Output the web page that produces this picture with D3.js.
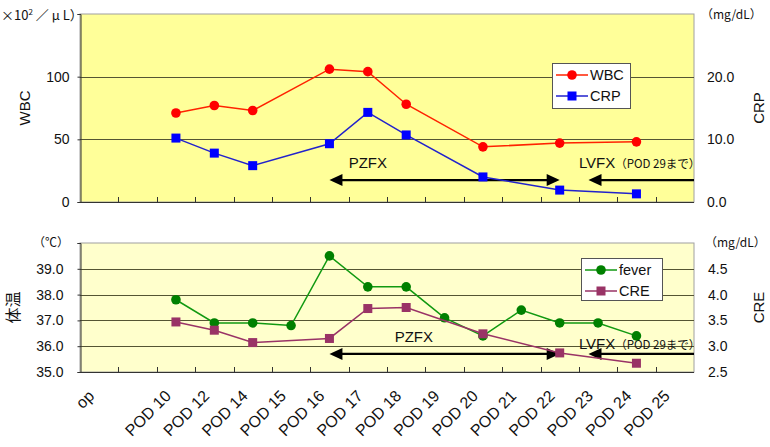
<!DOCTYPE html>
<meta charset="utf-8">
<script src="https://d3js.org/d3.v7.min.js"></script>
<style>
    body { margin: 0; background: #fff; }
    svg text { font-family: "Liberation Sans", Arial, sans-serif; }
    .jp { font-family: "Noto Sans CJK JP", sans-serif; }
</style>
<div id="vis"></div>
<script>
    // categories (x axis)
    var cats = ["op", "", "POD 10", "POD 12", "POD 14", "POD 15", "POD 16", "POD 17", "POD 18",
        "POD 19", "POD 20", "POD 21", "POD 22", "POD 23", "POD 24", "POD 25"];

    // series values, null = no measurement
    var wbc = [null, null, 71, 77, 73, null, 106, 104, 78, null, 44, null, 47, null, 48, null];
    var crp = [null, null, 10.2, 7.8, 5.8, null, 9.3, 14.3, 10.7, null, 4.0, null, 1.9, null, 1.3, null];
    var fever = [null, null, 37.8, 36.9, 36.9, 36.8, 39.5, 38.3, 38.3, 37.1, 36.4, 37.4, 36.9, 36.9, 36.4, null];
    var cre = [null, null, 3.47, 3.31, 3.07, null, 3.15, 3.73, 3.75, null, 3.24, null, 2.87, null, 2.67, null];

    // tick values
    var wbcTicks = [0, 50, 100];
    var crpTicks = [0, 10, 20];
    var tempTicks = [35, 36, 37, 38, 39];
    var creTicks = [2.5, 3.0, 3.5, 4.0, 4.5];

    var W = 770, H = 447;
    var svg = d3.select("#vis").append("svg")
        .attr("width", W).attr("height", H);

    var x = d3.scaleBand().domain(cats).range([80, 694]).padding(0);
    var bw = x.bandwidth();
    // fractional category index -> pixel (for the drug arrows)
    var xi = function (i) { return x.range()[0] + (i + 0.5) * bw; };

    function panel(o) {
        var g = svg.append("g");
        var yl = d3.scaleLinear().domain(o.lDom).range([o.bot, o.top]);
        var yr = d3.scaleLinear().domain(o.rDom).range([o.bot, o.top]);

        g.append("rect")
            .attr("x", 80).attr("y", o.top)
            .attr("width", 614).attr("height", o.bot - o.top)
            .attr("fill", o.bg).attr("stroke", "#a0a0a0").attr("stroke-width", 1);

        // gridlines
        g.selectAll(".grid").data(o.grid).enter().append("line")
            .attr("x1", 80).attr("x2", 694)
            .attr("y1", function (d) { return Math.round(yl(d)) + 0.5; })
            .attr("y2", function (d) { return Math.round(yl(d)) + 0.5; })
            .attr("stroke", "#555533").attr("stroke-width", 1);

        // left axis
        var la = g.append("g").attr("transform", "translate(80.5,0)")
            .call(d3.axisLeft(yl).tickValues(o.lTicks.concat([o.lDom[1]])).tickSize(3)
                .tickFormat(function (d) { return o.lTicks.indexOf(d) < 0 ? "" : o.lFmt(d); }));
        la.select(".domain").attr("stroke", "#333");
        la.selectAll("text").attr("x", o.lLabX - 80).style("font-size", "14px").attr("fill", "#111");
        la.selectAll("line").attr("stroke", "#333");

        // right axis
        var ra = g.append("g").attr("transform", "translate(694,0)")
            .call(d3.axisRight(yr).tickValues(o.rTicks).tickSize(0).tickFormat(d3.format(o.rFmt)));
        ra.select(".domain").remove();
        ra.selectAll("text").attr("x", o.rLabX - 694).style("font-size", "14px").attr("fill", "#111");

        // bottom axis with ticks at category borders pointing inside
        g.append("line").attr("x1", 80).attr("x2", 694)
            .attr("y1", o.bot + 0.5).attr("y2", o.bot + 0.5)
            .attr("stroke", "#333").attr("stroke-width", 1.2);
        g.selectAll(".xt").data(cats.slice(1)).enter().append("line")
            .attr("x1", function (d) { return Math.round(x(d)) + 0.5; })
            .attr("x2", function (d) { return Math.round(x(d)) + 0.5; })
            .attr("y1", o.bot).attr("y2", o.bot - 5)
            .attr("stroke", "#333");

        // arrows
        o.arrows.forEach(function (a) {
            var ay = yl(a.y);
            g.append("line")
                .attr("x1", xi(a.from) + (a.headL ? 10 : 0)).attr("x2", xi(a.to) - (a.headR ? 10 : 0))
                .attr("y1", ay).attr("y2", ay)
                .attr("stroke", "#000").attr("stroke-width", 2.2);
            if (a.headL) {
                g.append("path")
                    .attr("d", d3.line()([[xi(a.from), ay], [xi(a.from) + 13, ay - 6], [xi(a.from) + 13, ay + 6]]) + "Z")
                    .attr("fill", "#000");
            }
            if (a.headR) {
                g.append("path")
                    .attr("d", d3.line()([[xi(a.to), ay], [xi(a.to) - 13, ay - 6], [xi(a.to) - 13, ay + 6]]) + "Z")
                    .attr("fill", "#000");
            }
            var t = g.append("text")
                .attr("x", xi(a.tx)).attr("y", yl(a.ty))
                .attr("text-anchor", a.anchor).attr("dy", "0.35em")
                .style("font-size", "15px").attr("fill", "#111")
                .text(a.label);
            if (a.sub) {
                t.append("tspan").attr("class", "jp").style("font-size", "11.5px").text(a.sub);
            }
        });

        // series
        o.series.forEach(function (s) {
            var sc = s.axis === "l" ? yl : yr;
            var pts = s.values.map(function (v, i) { return { c: cats[i], v: v }; })
                .filter(function (d) { return d.v != null; });
            g.append("path").datum(pts)
                .attr("fill", "none").attr("stroke", s.line).attr("stroke-width", 1.5)
                .attr("d", d3.line()
                    .x(function (d) { return x(d.c) + bw / 2; })
                    .y(function (d) { return sc(d.v); }));
            drawMarks(g, pts, s, function (d) { return x(d.c) + bw / 2; }, function (d) { return sc(d.v); });
        });

        // legend
        var lg = g.append("g");
        lg.append("rect")
            .attr("x", o.leg.x + 0.5).attr("y", o.leg.y + 0.5)
            .attr("width", o.leg.w).attr("height", o.leg.h)
            .attr("fill", "#fff").attr("stroke", "#555").attr("stroke-width", 1);
        o.series.forEach(function (s, i) {
            var ly = o.leg.y + 12 + i * 21;
            lg.append("line")
                .attr("x1", o.leg.x + 4).attr("x2", o.leg.x + 36)
                .attr("y1", ly).attr("y2", ly)
                .attr("stroke", s.line).attr("stroke-width", 1.5);
            drawMarks(lg, [0], s, function () { return o.leg.x + 20; }, function () { return ly; });
            lg.append("text")
                .attr("x", o.leg.x + 38).attr("y", ly).attr("dy", "0.35em")
                .style("font-size", "14.5px").attr("fill", "#111")
                .text(s.name);
        });

        // axis titles
        svg.append("text")
            .attr("class", o.lTitleJp ? "jp" : null)
            .attr("transform", "translate(" + o.lTitleX + "," + ((o.top + o.bot) / 2) + ") rotate(-90)")
            .attr("text-anchor", "middle").attr("dy", "0.35em")
            .style("font-size", o.lTitleSize).attr("fill", "#111")
            .text(o.lTitle);
        svg.append("text")
            .attr("transform", "translate(759," + ((o.top + o.bot) / 2) + ") rotate(-90)")
            .attr("text-anchor", "middle").attr("dy", "0.35em")
            .style("font-size", "15px").attr("fill", "#111")
            .text(o.rTitle);
        return g;
    }

    function drawMarks(g, pts, s, fx, fy) {
        if (s.shape === "circle") {
            g.selectAll(null).data(pts).enter().append("circle")
                .attr("cx", fx).attr("cy", fy).attr("r", 4.8)
                .attr("fill", s.mark);
        } else {
            g.selectAll(null).data(pts).enter().append("rect")
                .attr("x", function (d) { return fx(d) - 4.5; })
                .attr("y", function (d) { return fy(d) - 4.5; })
                .attr("width", 9).attr("height", 9)
                .attr("fill", s.mark);
        }
    }

    // upper panel: WBC / CRP
    panel({
        top: 14, bot: 202, bg: "#ffff99",
        lDom: [0, 150], rDom: [0, 30],
        grid: [50, 100],
        lTicks: wbcTicks, lFmt: d3.format("d"), lLabX: 69,
        rTicks: crpTicks, rFmt: ".1f", rLabX: 707,
        series: [
            { name: "WBC", values: wbc, axis: "l", line: "#ff2200", mark: "#ff0000", shape: "circle" },
            { name: "CRP", values: crp, axis: "r", line: "#2222cc", mark: "#0000ff", shape: "square" }
        ],
        arrows: [
            { label: "PZFX", from: 6, to: 12, headL: true, headR: true, y: 17.5, tx: 7, ty: 31, anchor: "middle" },
            { label: "LVFX", sub: "（POD 29まで）", from: 12.75, to: 15.5, headL: true, headR: false, y: 17.5, tx: 12.5, ty: 31, anchor: "start" }
        ],
        leg: { x: 552, y: 63, w: 78, h: 45 },
        lTitle: "WBC", lTitleX: 25, lTitleSize: "15px",
        rTitle: "CRP"
    });

    // lower panel: fever / CRE
    panel({
        top: 243, bot: 372, bg: "#ffffcc",
        lDom: [35, 40], rDom: [2.5, 5.0],
        grid: [36, 37, 38, 39],
        lTicks: tempTicks, lFmt: d3.format(".1f"), lLabX: 63,
        rTicks: creTicks, rFmt: ".1f", rLabX: 708,
        series: [
            { name: "fever", values: fever, axis: "l", line: "#119911", mark: "#008000", shape: "circle" },
            { name: "CRE", values: cre, axis: "r", line: "#993366", mark: "#993366", shape: "square" }
        ],
        arrows: [
            { label: "PZFX", from: 6, to: 12, headL: true, headR: true, y: 35.7, tx: 8.2, ty: 36.35, anchor: "middle" },
            { label: "LVFX", sub: "（POD 29まで）", from: 12.75, to: 15.5, headL: true, headR: false, y: 35.7, tx: 12.5, ty: 36.08, anchor: "start" }
        ],
        leg: { x: 581, y: 258, w: 81, h: 42 },
        lTitle: "体温", lTitleJp: true, lTitleX: 13, lTitleSize: "16px",
        rTitle: "CRE"
    });

    // unit labels
    svg.append("text").attr("class", "jp")
        .attr("x", 1).attr("y", 15).attr("dy", "0.35em")
        .style("font-size", "13px").attr("fill", "#111")
        .html("×10<tspan dy='-5' font-size='8px'>2</tspan><tspan dy='5'> ／ μ L）</tspan>");
    svg.append("text").attr("class", "jp")
        .attr("x", 701).attr("y", 15).attr("dy", "0.35em")
        .style("font-size", "12px").attr("fill", "#111").text("（mg/dL）");
    svg.append("text").attr("class", "jp")
        .attr("x", 705).attr("y", 243).attr("dy", "0.35em")
        .style("font-size", "12px").attr("fill", "#111").text("（mg/dL）");
    svg.append("text").attr("class", "jp")
        .attr("x", 33).attr("y", 243).attr("dy", "0.35em")
        .style("font-size", "12px").attr("fill", "#111").text("（℃）");

    // x category labels under the lower panel
    svg.append("g").selectAll("text").data(cats).enter().append("text")
        .attr("transform", function (d) { return "translate(" + (x(d) + bw / 2 - 4) + ",397) rotate(-45)"; })
        .attr("text-anchor", "end")
        .style("font-size", "16px").attr("fill", "#111")
        .text(function (d) { return d; });
</script>
